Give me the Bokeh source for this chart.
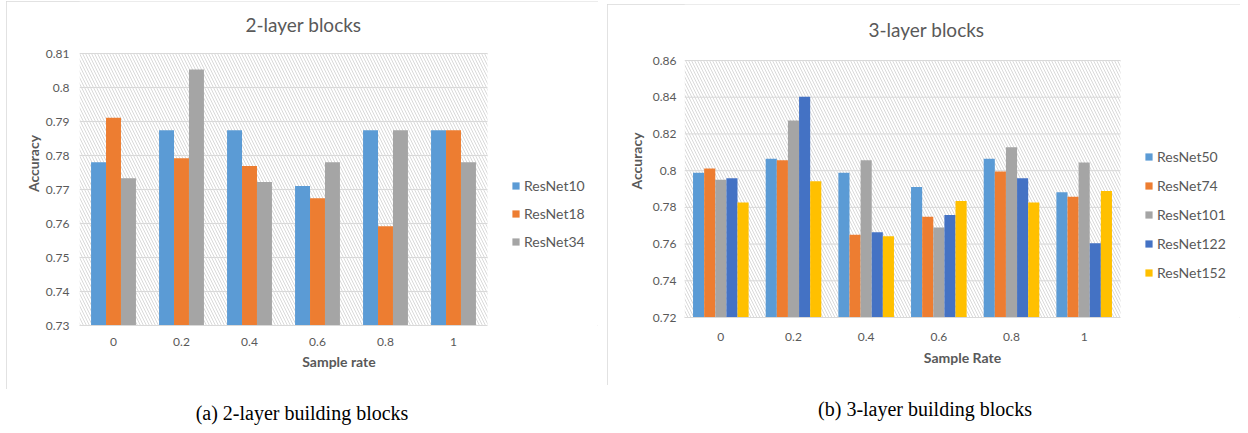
from bokeh.plotting import figure
from bokeh.models import (Range1d, ColumnDataSource, FixedTicker, Legend, LegendItem,
                          BoxAnnotation, Spacer, Div, Label)
from bokeh.transform import dodge
from bokeh.layouts import row, column
from bokeh.embed import file_html
from bokeh.resources import INLINE

# ---------------- data ----------------
sample_rates = ["0", "0.2", "0.4", "0.6", "0.8", "1"]

# 2-layer blocks
resnet10 = [0.7780, 0.7874, 0.7874, 0.7710, 0.7874, 0.7874]
resnet18 = [0.7911, 0.7792, 0.7769, 0.7674, 0.7592, 0.7874]
resnet34 = [0.7733, 0.8053, 0.7722, 0.7780, 0.7874, 0.7780]

# 3-layer blocks
resnet50 = [0.7989, 0.8065, 0.7989, 0.7911, 0.8065, 0.7882]
resnet74 = [0.8011, 0.8056, 0.7651, 0.7749, 0.7996, 0.7858]
resnet101 = [0.7951, 0.8273, 0.8056, 0.7690, 0.8127, 0.8044]
resnet122 = [0.7958, 0.8403, 0.7665, 0.7758, 0.7958, 0.7604]
resnet152 = [0.7827, 0.7942, 0.7642, 0.7834, 0.7827, 0.7889]

left_series = ["ResNet10", "ResNet18", "ResNet34"]
right_series = ["ResNet50", "ResNet74", "ResNet101", "ResNet122", "ResNet152"]

left_yticks = [0.73, 0.74, 0.75, 0.76, 0.77, 0.78, 0.79, 0.80, 0.81]
left_ylabels = ["0.73", "0.74", "0.75", "0.76", "0.77", "0.78", "0.79", "0.8", "0.81"]
right_yticks = [0.72, 0.74, 0.76, 0.78, 0.80, 0.82, 0.84, 0.86]
right_ylabels = ["0.72", "0.74", "0.76", "0.78", "0.8", "0.82", "0.84", "0.86"]

titles = ["2-layer blocks", "3-layer blocks"]
xlabels = ["Sample rate", "Sample Rate"]
captions = ["(a) 2-layer building blocks", "(b) 3-layer building blocks"]

colors = ["#5B9BD5", "#ED7D31", "#A5A5A5", "#4472C4", "#FFC000"]

TXT = "#595959"
GRID = "#D9D9D9"
FONT = "Lato"


def make_panel(series_names, series_values, yticks, ylabels, title, xlabel,
               width, height, bl, bb, plot_w, plot_h, bar_w, tick_standoff_y,
               tick_standoff_x, ylab_standoff, xlab_standoff,
               title_xy, legend_xy, legend_spacing):
    ncat = len(sample_rates)
    centers = [i + 0.5 for i in range(ncat)]
    data = {"xc": centers}
    for n, v in zip(series_names, series_values):
        data[n] = v
    src = ColumnDataSource(data)

    frame_w = width - bl          # frame runs to the right edge (legend lives inside)
    frame_h = height - bb         # frame runs to the top edge (title lives inside)
    x_end = ncat * frame_w / plot_w
    y_top = yticks[0] + (yticks[-1] - yticks[0]) * frame_h / plot_h

    p = figure(x_range=Range1d(0, x_end), y_range=Range1d(yticks[0], y_top),
               width=width, height=height, output_backend="svg",
               toolbar_location=None,
               min_border_left=bl, min_border_right=0,
               min_border_top=0, min_border_bottom=bb,
               outline_line_color=None, background_fill_color="white",
               border_fill_color="white",
               styles={"outline": "1px solid #D9D9D9", "outline-offset": "-1px"})

    # hatched plot area
    p.add_layout(BoxAnnotation(left=0, right=ncat, bottom=yticks[0], top=yticks[-1],
                               fill_color=None, line_color=None,
                               hatch_pattern="\\", hatch_color="#D9D9D9",
                               hatch_scale=6, hatch_weight=1, level="image"))

    # horizontal gridlines limited to the plot area
    gsrc = ColumnDataSource({"y": yticks[1:], "x0": [0] * (len(yticks) - 1),
                             "x1": [ncat] * (len(yticks) - 1)})
    p.segment(x0="x0", x1="x1", y0="y", y1="y", source=gsrc,
              line_color=GRID, line_width=1, level="underlay")

    n = len(series_names)
    items = []
    for i, name in enumerate(series_names):
        off = (i - (n - 1) / 2) * bar_w
        r = p.vbar(x=dodge("xc", off), top=name,
                   bottom=yticks[0], width=bar_w, source=src,
                   fill_color=colors[i], line_color=None)
        items.append(LegendItem(label=name, renderers=[r]))

    # axes
    p.xgrid.visible = False
    p.ygrid.visible = False
    p.yaxis.ticker = FixedTicker(ticks=yticks)
    p.yaxis.major_label_overrides = dict(zip(yticks, ylabels))
    p.yaxis.bounds = (yticks[0], yticks[-1])
    p.xaxis.ticker = FixedTicker(ticks=centers)
    p.xaxis.major_label_overrides = dict(zip(centers, sample_rates))
    p.xaxis.bounds = (0, ncat)
    for ax in (p.xaxis, p.yaxis):
        ax.major_tick_line_color = None
        ax.minor_tick_line_color = None
        ax.major_tick_out = 0
        ax.major_tick_in = 0
        ax.minor_tick_out = 0
        ax.minor_tick_in = 0
        ax.major_label_text_font = FONT
        ax.major_label_text_font_size = "12px"
        ax.major_label_text_color = TXT
        ax.axis_label_text_font = FONT
        ax.axis_label_text_font_size = "14px"
        ax.axis_label_text_font_style = "bold"
        ax.axis_label_text_color = TXT
    p.yaxis.axis_line_color = None
    p.xaxis.axis_line_color = GRID
    p.xaxis.axis_line_width = 1
    p.yaxis.major_label_standoff = tick_standoff_y
    p.xaxis.major_label_standoff = tick_standoff_x
    p.yaxis.axis_label = "Accuracy"
    p.xaxis.axis_label = xlabel
    p.yaxis.axis_label_standoff = ylab_standoff
    p.xaxis.axis_label_standoff = xlab_standoff

    # chart title (inside the frame, above the plot area)
    p.add_layout(Label(x=title_xy[0], y=title_xy[1], x_units="screen", y_units="screen",
                       text=title, text_font=FONT, text_font_size="19px",
                       text_color=TXT, text_align="center", text_baseline="middle"))

    # legend (inside the frame, right of the plot area)
    legend = Legend(items=items, location=legend_xy, orientation="vertical",
                    glyph_width=9, glyph_height=9, label_height=20,
                    spacing=legend_spacing, padding=0, margin=0,
                    label_standoff=4, border_line_color=None,
                    background_fill_alpha=0,
                    label_text_font=FONT, label_text_font_size="14px",
                    label_text_color=TXT)
    p.add_layout(legend)
    return p


def make_caption(text, width, height, pad_top, pad_left):
    return Div(text=text, width=width, height=height, margin=0,
               styles={"font-family": "'Liberation Serif', 'Times New Roman', serif",
                       "font-size": "20px", "line-height": "20px",
                       "color": "black", "text-align": "center",
                       "padding-top": f"{pad_top}px", "padding-left": f"{pad_left}px",
                       "box-sizing": "border-box", "white-space": "nowrap"})


left = make_panel(left_series, [resnet10, resnet18, resnet34], left_yticks, left_ylabels,
                  titles[0], xlabels[0],
                  width=592, height=388, bl=73, bb=64, plot_w=408, plot_h=272,
                  bar_w=0.22, tick_standoff_y=10, tick_standoff_x=12,
                  ylab_standoff=1, xlab_standoff=4,
                  title_xy=(224, 301), legend_xy=(432, 74), legend_spacing=8)

right = make_panel(right_series, [resnet50, resnet74, resnet101, resnet122, resnet152],
                   right_yticks, right_ylabels, titles[1], xlabels[1],
                   width=633, height=381, bl=77, bb=68, plot_w=436, plot_h=257,
                   bar_w=0.153, tick_standoff_y=8, tick_standoff_x=15,
                   ylab_standoff=5, xlab_standoff=5,
                   title_xy=(242, 288), legend_xy=(460, 35), legend_spacing=9)

left_cap = make_caption(captions[0], 592, 36, 14, 0)
right_cap = make_caption(captions[1], 633, 36, 14, 3)

layout = row(Spacer(width=6, height=10),
             column(Spacer(width=10, height=1), left, left_cap),
             Spacer(width=9, height=10),
             column(Spacer(width=10, height=4), right, right_cap))
open("out.html", "w").write(file_html(layout, INLINE))
